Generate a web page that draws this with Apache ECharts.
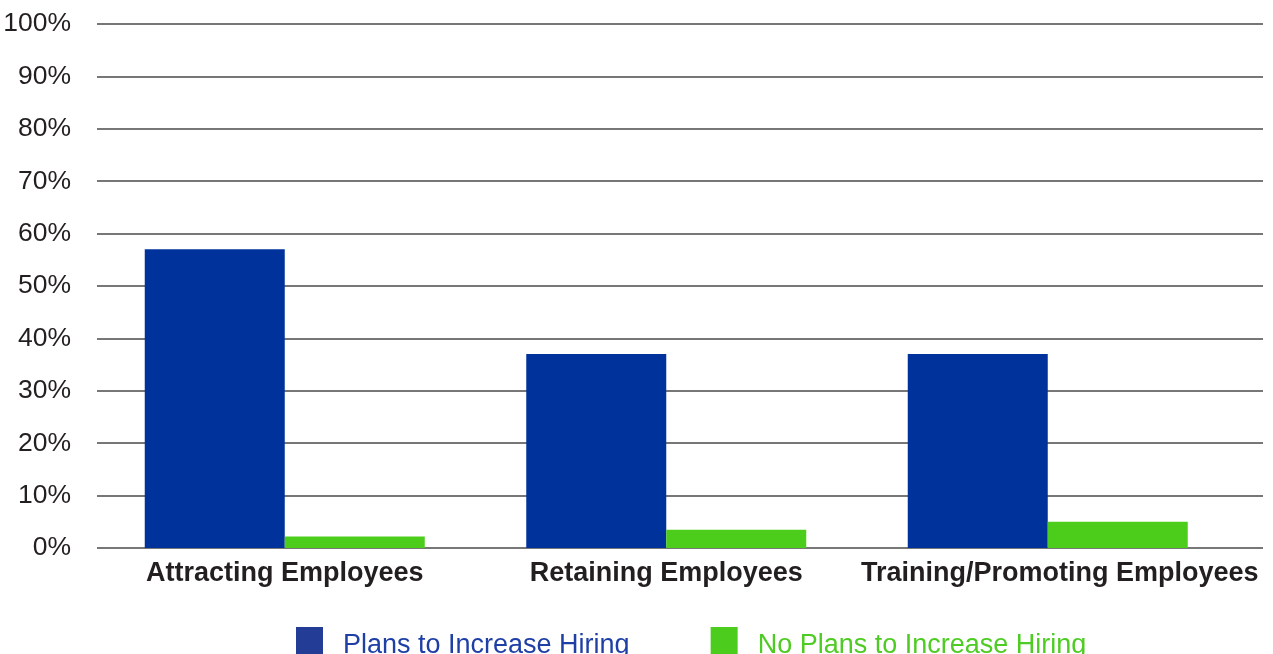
<!DOCTYPE html>
<html>
<head>
<meta charset="utf-8">
<style>
  html, body { margin: 0; padding: 0; background: #ffffff; }
  #chart { width: 1273px; height: 654px; }
</style>
<script src="https://cdn.jsdelivr.net/npm/echarts@6/dist/echarts.min.js"></script>
</head>
<body>
<div id="chart"></div>
<script>
// Hiring plans by employee focus area (share of respondents, %)
const categories = ['Attracting Employees', 'Retaining Employees', 'Training/Promoting Employees'];
const plansToIncrease = [57, 37, 37];
const noPlansToIncrease = [2.2, 3.5, 5];
const seriesNames = ['Plans to Increase Hiring', 'No Plans to Increase Hiring'];
const yTicks = [0, 10, 20, 30, 40, 50, 60, 70, 80, 90, 100];

const BLUE = '#00329c';
const GREEN = '#4ccd1c';
const FONT = '"Liberation Sans", Arial, Helvetica, sans-serif';

const chart = echarts.init(document.getElementById('chart'), null, { renderer: 'canvas' });

chart.setOption({
  animation: false,
  backgroundColor: '#ffffff',
  grid: [
    // gridlines and percentage scale
    { left: 97, right: 10, top: 24, bottom: 106 },
    // bar groups
    { left: 94, right: 34.5, top: 24, bottom: 106 }
  ],
  xAxis: [
    { gridIndex: 0, type: 'category', data: categories, show: false },
    {
      gridIndex: 1,
      type: 'category',
      data: categories,
      axisLine: { show: false },
      axisTick: { show: false },
      axisLabel: {
        margin: 12,
        interval: 0,
        color: '#231f20',
        fontFamily: FONT,
        fontWeight: 'bold',
        fontSize: 27,
        // the last, longest label sits a little to the right, toward the plot edge
        formatter: (v, i) => (i === categories.length - 1 ? '{last|' + v + '}' : v),
        rich: {
          last: {
            color: '#231f20',
            fontFamily: FONT,
            fontWeight: 'bold',
            fontSize: 27,
            padding: [0, 0, 0, 24]
          }
        }
      }
    }
  ],
  yAxis: [
    {
      gridIndex: 0,
      type: 'value',
      min: yTicks[0],
      max: yTicks[yTicks.length - 1],
      interval: 10,
      axisLine: { show: false },
      axisTick: { show: false },
      axisLabel: {
        margin: 26,
        color: '#231f20',
        fontFamily: FONT,
        fontSize: 26.5,
        formatter: v => v + '%'
      },
      splitLine: { lineStyle: { color: '#4a4a4a', width: 1.5 } }
    },
    {
      gridIndex: 1,
      type: 'value',
      min: yTicks[0],
      max: yTicks[yTicks.length - 1],
      interval: 10,
      show: false,
      splitLine: { show: false }
    }
  ],
  legend: {
    left: 296,
    top: 627,
    padding: 0,
    itemWidth: 27,
    itemHeight: 27,
    itemGap: 81,
    icon: 'rect',
    formatter: name => '{t|' + name + '}',
    textStyle: {
      fontFamily: FONT,
      fontSize: 27,
      rich: { t: { fontFamily: FONT, fontSize: 27, padding: [10, 0, 0, 15] } }
    },
    data: [
      { name: seriesNames[0], itemStyle: { color: '#233c95' }, textStyle: { color: '#1e3fa6' } },
      { name: seriesNames[1], itemStyle: { color: '#4ccc1c' }, textStyle: { color: '#4ecc24' } }
    ]
  },
  series: [
    {
      name: seriesNames[0],
      type: 'bar',
      xAxisIndex: 1,
      yAxisIndex: 1,
      data: plansToIncrease,
      barWidth: 140,
      barGap: '0%',
      itemStyle: { color: BLUE }
    },
    {
      name: seriesNames[1],
      type: 'bar',
      xAxisIndex: 1,
      yAxisIndex: 1,
      data: noPlansToIncrease,
      barWidth: 140,
      barGap: '0%',
      itemStyle: { color: GREEN }
    }
  ]
});
</script>
</body>
</html>
